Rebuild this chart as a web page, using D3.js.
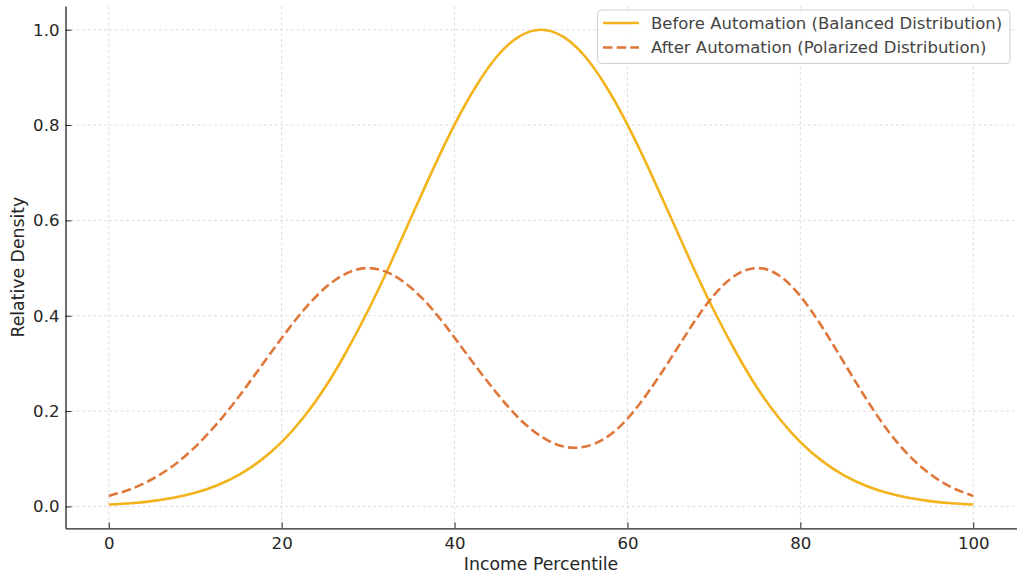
<!DOCTYPE html>
<html>
<head>
<meta charset="utf-8">
<script src="https://cdn.jsdelivr.net/npm/d3@7"></script>
<style>
  html, body { margin: 0; padding: 0; background: #fff; }
  svg { display: block; font-family: "DejaVu Sans", sans-serif; }
</style>
</head>
<body>
<svg id="chart" width="1024" height="584"></svg>
<script>
// ---- data ----
const percentile = [0, 2.5, 5, 7.5, 10, 12.5, 15, 17.5, 20, 22.5, 25, 27.5, 30, 32.5, 35, 37.5, 40, 42.5, 45, 47.5, 50,
                    52.5, 55, 57.5, 60, 62.5, 65, 67.5, 70, 72.5, 75, 77.5, 80, 82.5, 85, 87.5, 90, 92.5, 95, 97.5, 100];
const beforeDensity = [0.0039, 0.0067, 0.0111, 0.0181, 0.0286, 0.0439, 0.0657, 0.0956, 0.135, 0.186, 0.249, 0.325, 0.411, 0.506, 0.607, 0.707, 0.801, 0.882, 0.946, 0.986, 1.0,
                       0.986, 0.946, 0.882, 0.801, 0.707, 0.607, 0.506, 0.411, 0.325, 0.249, 0.186, 0.135, 0.0956, 0.0657, 0.0439, 0.0286, 0.0181, 0.0111, 0.0067, 0.0039];
const afterDensity = [0.022, 0.036, 0.057, 0.086, 0.125, 0.173, 0.229, 0.291, 0.353, 0.411, 0.458, 0.489, 0.500, 0.489, 0.458, 0.412, 0.354, 0.293, 0.235, 0.184, 0.147,
                      0.126, 0.125, 0.144, 0.184, 0.242, 0.310, 0.381, 0.443, 0.485, 0.500, 0.485, 0.441, 0.377, 0.303, 0.229, 0.162, 0.108, 0.068, 0.040, 0.022];
const seriesNames = ["Before Automation (Balanced Distribution)", "After Automation (Polarized Distribution)"];
const xTicks = [0, 20, 40, 60, 80, 100];
const yTicks = [0.0, 0.2, 0.4, 0.6, 0.8, 1.0];
const xLabel = "Income Percentile";
const yLabel = "Relative Density";

// ---- layout ----
const plotLeft = 65.5, plotRight = 1016.5, plotTop = 6, plotBottom = 528.3;
const svg = d3.select("#chart");
const x = d3.scaleLinear().domain([-5, 105]).range([plotLeft, plotRight]);
const y = d3.scaleLinear().domain([-0.0459, 1.0498]).range([plotBottom, plotTop]);

const colors = ["#f2b31b", "#e0773a"];
const textColor = "#262626";

// grid
const grid = svg.append("g");
grid.selectAll("line.vx").data(xTicks).enter().append("line")
  .attr("x1", d => x(d)).attr("x2", d => x(d)).attr("y1", plotTop).attr("y2", plotBottom)
  .attr("stroke", "#d6d6d6").attr("stroke-width", 0.8).attr("stroke-dasharray", "3,2.5");
grid.selectAll("line.hy").data(yTicks).enter().append("line")
  .attr("x1", plotLeft).attr("x2", plotRight).attr("y1", d => y(d)).attr("y2", d => y(d))
  .attr("stroke", "#d6d6d6").attr("stroke-width", 0.8).attr("stroke-dasharray", "3,2.5");

// axes
const xAxis = d3.axisBottom(x).tickValues(xTicks).tickFormat(d3.format("d")).tickSizeInner(-6).tickSizeOuter(0).tickPadding(9);
const yAxis = d3.axisLeft(y).tickValues(yTicks).tickFormat(d3.format(".1f")).tickSizeInner(-6).tickSizeOuter(0).tickPadding(6);

const gx = svg.append("g").attr("transform", `translate(0,${plotBottom})`).call(xAxis);
const gy = svg.append("g").attr("transform", `translate(${plotLeft},0)`).call(yAxis);
[gx, gy].forEach(g => {
  g.select(".domain").attr("stroke", "#222").attr("stroke-width", 1.3);
  g.selectAll(".tick line").attr("stroke", "#222").attr("stroke-width", 1);
  g.selectAll(".tick text").attr("fill", textColor).attr("font-size", 16.6).attr("font-family", "DejaVu Sans");
});
gx.selectAll(".tick text").attr("dy", "0.71em");

// labels
svg.append("text").attr("x", (plotLeft + plotRight) / 2).attr("y", 570)
  .attr("text-anchor", "middle").attr("font-size", 17.3).attr("fill", textColor).text(xLabel);
svg.append("text").attr("transform", `translate(24,${(plotTop + plotBottom) / 2}) rotate(-90)`)
  .attr("text-anchor", "middle").attr("font-size", 17.3).attr("fill", textColor).text(yLabel);

// lines
const pts1 = percentile.map((p, i) => [p, beforeDensity[i]]);
const pts2 = percentile.map((p, i) => [p, afterDensity[i]]);
const line = d3.line().x(d => x(d[0])).y(d => y(d[1])).curve(d3.curveNatural);

svg.append("path").attr("d", line(pts1)).attr("fill", "none")
  .attr("stroke", colors[0]).attr("stroke-width", 2.6).attr("stroke-linecap", "butt");
svg.append("path").attr("d", line(pts2)).attr("fill", "none")
  .attr("stroke", colors[1]).attr("stroke-width", 2.6).attr("stroke-dasharray", "9.5,4.2");

// legend
const lg = svg.append("g");
lg.append("rect").attr("x", 597.5).attr("y", 10).attr("width", 412.5).attr("height", 53.5)
  .attr("rx", 4).attr("fill", "#fff").attr("fill-opacity", 0.85).attr("stroke", "#d0d0d0").attr("stroke-width", 1);
[0, 1].forEach(i => {
  const yy = 23 + i * 24.5;
  lg.append("line").attr("x1", 603).attr("x2", 639).attr("y1", yy).attr("y2", yy)
    .attr("stroke", colors[i]).attr("stroke-width", 2.6)
    .attr("stroke-dasharray", i === 1 ? "9.5,4.2" : null);
  lg.append("text").attr("x", 651).attr("y", yy).attr("dy", "0.35em")
    .attr("font-size", 16.5).attr("fill", "#444").text(seriesNames[i]);
});
</script>
</body>
</html>
